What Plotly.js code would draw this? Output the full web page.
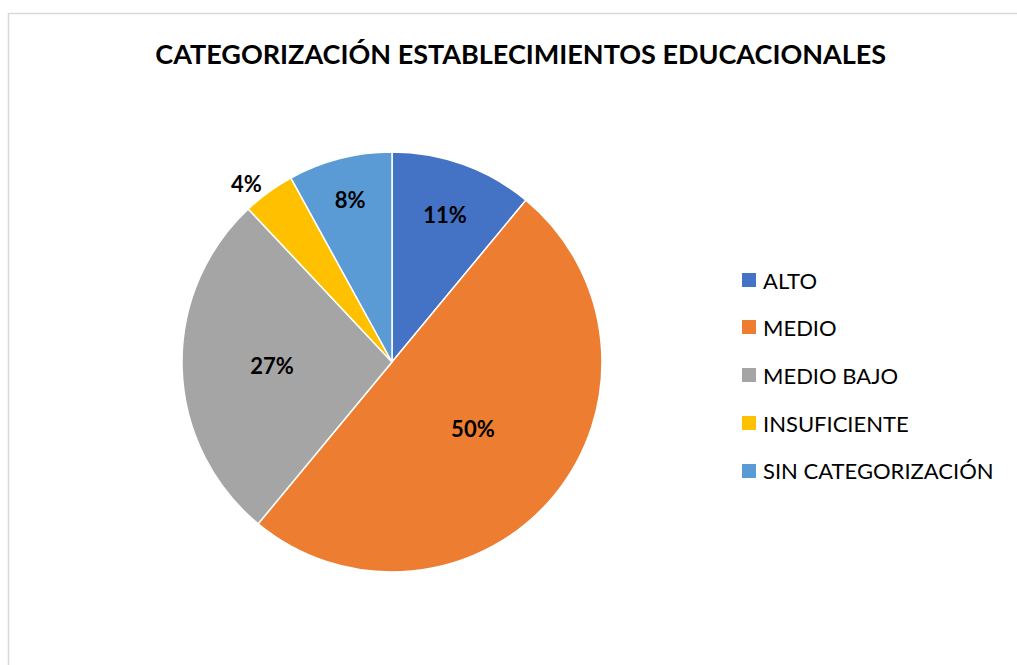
<!DOCTYPE html>
<html><head><meta charset="utf-8">
<script src="https://cdn.plot.ly/plotly-3.0.1.min.js"></script>
<style>html,body{margin:0;padding:0;background:#fff}</style>
</head><body>
<div id="chart" style="width:1017px;height:665px"></div>
<script>
const categories = ["ALTO", "MEDIO", "MEDIO BAJO", "INSUFICIENTE", "SIN CATEGORIZACIÓN"];
const values = [11, 50, 27, 4, 8];
const colors = ["#4472C4", "#ED7D31", "#A5A5A5", "#FFC000", "#5B9BD5"];
const textPositions = ["inside", "inside", "inside", "outside", "inside"];
const titleText = "CATEGORIZACIÓN ESTABLECIMIENTOS EDUCACIONALES";

const W = 1017, H = 665;
const px = x => x / W;
const py = y => 1 - y / H;

const pie = {
  type: "pie",
  labels: categories,
  values: values,
  sort: false,
  direction: "clockwise",
  rotation: 0,
  marker: {colors: colors, line: {color: "#ffffff", width: 1.5}},
  textinfo: "percent",
  textposition: textPositions,
  insidetextorientation: "horizontal",
  textfont: {family: "Lato, sans-serif", size: 22, color: "#000000", weight: "bold"},
  hoverinfo: "label+percent",
  domain: {x: [px(182), px(602)], y: [py(572), py(152)]},
  showlegend: false
};

const shapes = [{
  type: "rect", xref: "paper", yref: "paper",
  x0: px(8.5), x1: 1.05, y0: -0.05, y1: py(13.5),
  line: {color: "#D9D9D9", width: 1.5}, fillcolor: "rgba(0,0,0,0)", layer: "below"
}];
const annotations = [];
const legendY = [280, 327, 375, 423, 471];
categories.forEach((c, i) => {
  shapes.push({
    type: "rect", xref: "paper", yref: "paper",
    x0: px(742), x1: px(756), y0: py(legendY[i] + 7), y1: py(legendY[i] - 7),
    fillcolor: colors[i], line: {width: 0}
  });
  annotations.push({
    xref: "paper", yref: "paper", x: px(761), y: py(legendY[i]),
    xanchor: "left", yanchor: "middle", showarrow: false, text: c,
    font: {family: "Lato, sans-serif", size: 22, color: "#000000"}
  });
});

const layout = {
  width: W, height: H,
  margin: {l: 0, r: 0, t: 0, b: 0},
  paper_bgcolor: "#ffffff",
  title: {text: titleText, x: 0.512, xanchor: "center", y: py(55), yanchor: "middle", yref: "container",
          font: {family: "Lato, sans-serif", size: 27, color: "#000000", weight: "bold"}},
  showlegend: false,
  shapes: shapes,
  annotations: annotations
};

Plotly.newPlot("chart", [pie], layout, {displayModeBar: false, staticPlot: true});
</script>
</body></html>
